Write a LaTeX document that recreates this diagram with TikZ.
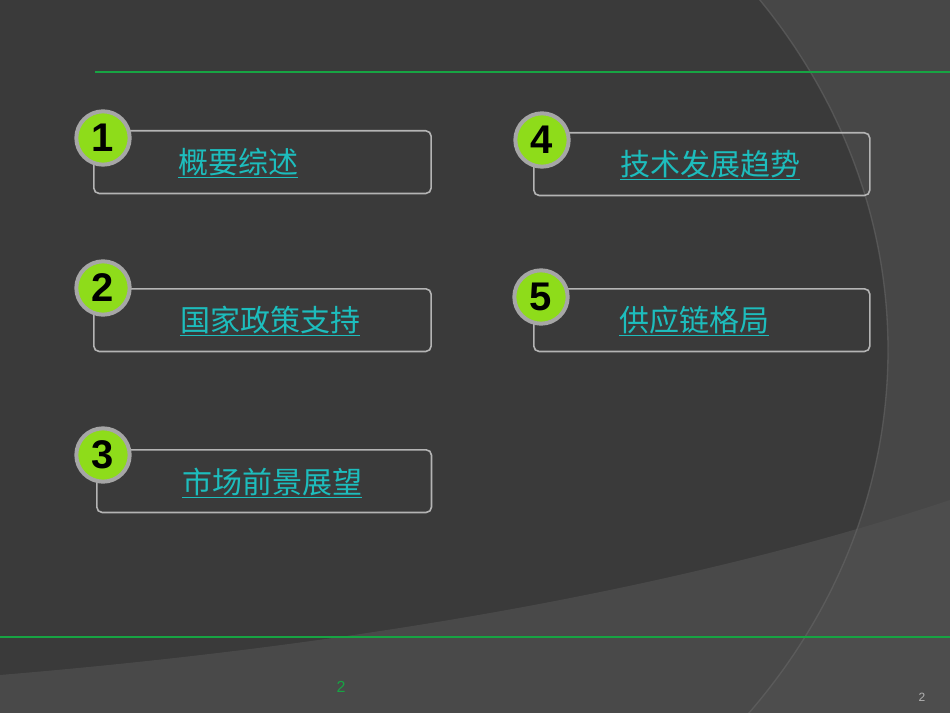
\documentclass[tikz,border=0pt]{standalone}
\usepackage{fontspec}
\setmainfont{Liberation Sans}
\newfontfamily\cjk{Noto Sans CJK SC}
\definecolor{bgd}{HTML}{3A3A3A}
\definecolor{bgl}{HTML}{474747}
\definecolor{bgll}{HTML}{505050}
\definecolor{grn}{HTML}{17A443}
\definecolor{lime}{HTML}{8EDC1A}
\definecolor{teal}{HTML}{1DBDBD}
\definecolor{bord}{HTML}{B4B4B4}
\tikzset{
 item/.style={draw=bord,line width=1.2pt,rounded corners=4pt,minimum height=47pt,anchor=north west},
 badge/.style={circle,draw=gray!70,line width=3pt,fill=lime,minimum size=40pt,inner sep=0pt,font=\fontsize{30}{30}\selectfont\bfseries,text=black},
 lbl/.style={text=teal,font=\cjk\fontsize{22.5}{22.5}\selectfont}
}
\begin{document}
\begin{tikzpicture}[x=0.75pt,y=-0.75pt]
\useasboundingbox (0,0) rectangle (950,713);
\fill[bgl] (0,0) rectangle (950,713);
\fill[bgd] (200,350) ellipse [x radius=688,y radius=602];
\fill[bgll,opacity=0.7] (0,675) .. controls (300,650) and (650,600) .. (950,500) -- (950,713) -- (0,713) -- cycle;
\draw[black!60,line width=1pt,opacity=0.6] (200,350) ellipse [x radius=688,y radius=602];
\draw[grn,line width=1.8pt] (95,72) -- (950,72);
\draw[grn,line width=1.8pt] (0,637) -- (950,637);
\node[item,minimum width=253pt] (b1) at (93,130) {};
\node[item,minimum width=253pt] (b2) at (93,288) {};
\node[item,minimum width=251pt] (b3) at (96,449) {};
\node[item,minimum width=252pt] (b4) at (533,132) {};
\node[item,minimum width=252pt] (b5) at (533,288) {};
\node[badge] (c1) at (103,138) {1};
\node[badge] (c2) at (103,288) {2};
\node[badge] (c3) at (103,455) {3};
\node[badge] (c4) at (542,140) {4};
\node[badge] (c5) at (541,297) {5};
\node[lbl] (t1) at (238,163) {\underline{概要综述}};
\node[lbl] (t2) at (270,321) {\underline{国家政策支持}};
\node[lbl] (t3) at (272,483) {\underline{市场前景展望}};
\node[lbl] (t4) at (710,165) {\underline{技术发展趋势}};
\node[lbl] (t5) at (694,321) {\underline{供应链格局}};
\node[text=grn,font=\fontsize{12}{12}\selectfont] (p1) at (341,687) {2};
\node[text=gray!60,font=\fontsize{9}{9}\selectfont] (p2) at (922,697) {2};
\end{tikzpicture}
\end{document}
